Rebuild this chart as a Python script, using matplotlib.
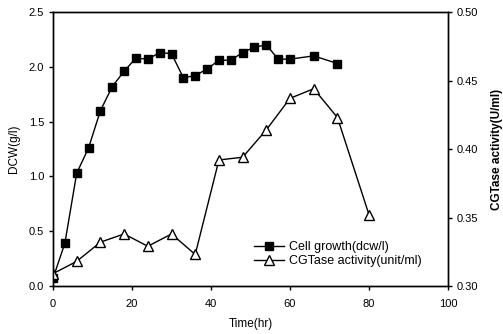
"""
Cell growth and CGTase activity vs time
"""
import matplotlib
matplotlib.use('Agg')
import matplotlib.pyplot as plt

# Данные: рост клеток (DCW, г/л)
time_dcw = [0, 3, 6, 9, 12, 15, 18, 21, 24, 27, 30, 33, 36, 39, 42, 45, 48, 51, 54, 57, 60, 66, 72]
dcw = [0.07, 0.39, 1.03, 1.26, 1.60, 1.82, 1.96, 2.08, 2.07, 2.13, 2.12, 1.90, 1.92, 1.98,
       2.06, 2.06, 2.13, 2.18, 2.20, 2.07, 2.07, 2.10, 2.03]

# Данные: активность CGTase (U/ml)
time_act = [0, 6, 12, 18, 24, 30, 36, 42, 48, 54, 60, 66, 72, 80]
activity = [0.309, 0.318, 0.332, 0.338, 0.329, 0.338, 0.323, 0.392, 0.394, 0.414,
            0.437, 0.444, 0.423, 0.352]

plt.rcParams['font.family'] = ['Liberation Sans', 'DejaVu Sans']

fig = plt.figure(figsize=(5.03, 3.34), dpi=100)
ax = fig.add_axes([0.1054, 0.1437, 0.7853, 0.8203])
ax2 = ax.twinx()

l1, = ax.plot(time_dcw, dcw, marker='s', markersize=6, color='black', linewidth=1.0,
              markerfacecolor='black', label='Cell growth(dcw/l)')
l2, = ax2.plot(time_act, activity, marker='^', markersize=7.5, color='black', linewidth=1.0,
               markerfacecolor='white', label='CGTase activity(unit/ml)')

ax.set_xlim(0, 100)
ax.set_ylim(0, 2.5)
ax2.set_ylim(0.30, 0.50)
ax.set_xticks([0, 20, 40, 60, 80, 100])
ax.set_yticks([0.0, 0.5, 1.0, 1.5, 2.0, 2.5])
ax2.set_yticks([0.30, 0.35, 0.40, 0.45, 0.50])
ax2.set_yticklabels(['0.30', '0.35', '0.40', '0.45', '0.50'])

ax.set_xlabel('Time(hr)', fontsize=8.5, labelpad=7)
ax.set_ylabel('DCW(g/l)', fontsize=8.5, labelpad=6)
ax2.set_ylabel('CGTase activity(U/ml)', fontsize=8.5, labelpad=9, fontweight='bold')

ax.tick_params(axis='both', labelsize=8, length=3, direction='out', width=1)
ax2.tick_params(axis='y', labelsize=8, length=3, direction='out', width=1)
ax.tick_params(axis='x', pad=6)

for a in (ax, ax2):
    for spine in a.spines.values():
        spine.set_linewidth(1.0)

ax.legend(handles=[l1, l2], loc='center', bbox_to_anchor=(0.72, 0.117), frameon=False,
          fontsize=9, handlelength=2.4, handletextpad=0.4, labelspacing=0.15,
          borderpad=0)

fig.savefig('out.png', dpi=100)
plt.close(fig)
